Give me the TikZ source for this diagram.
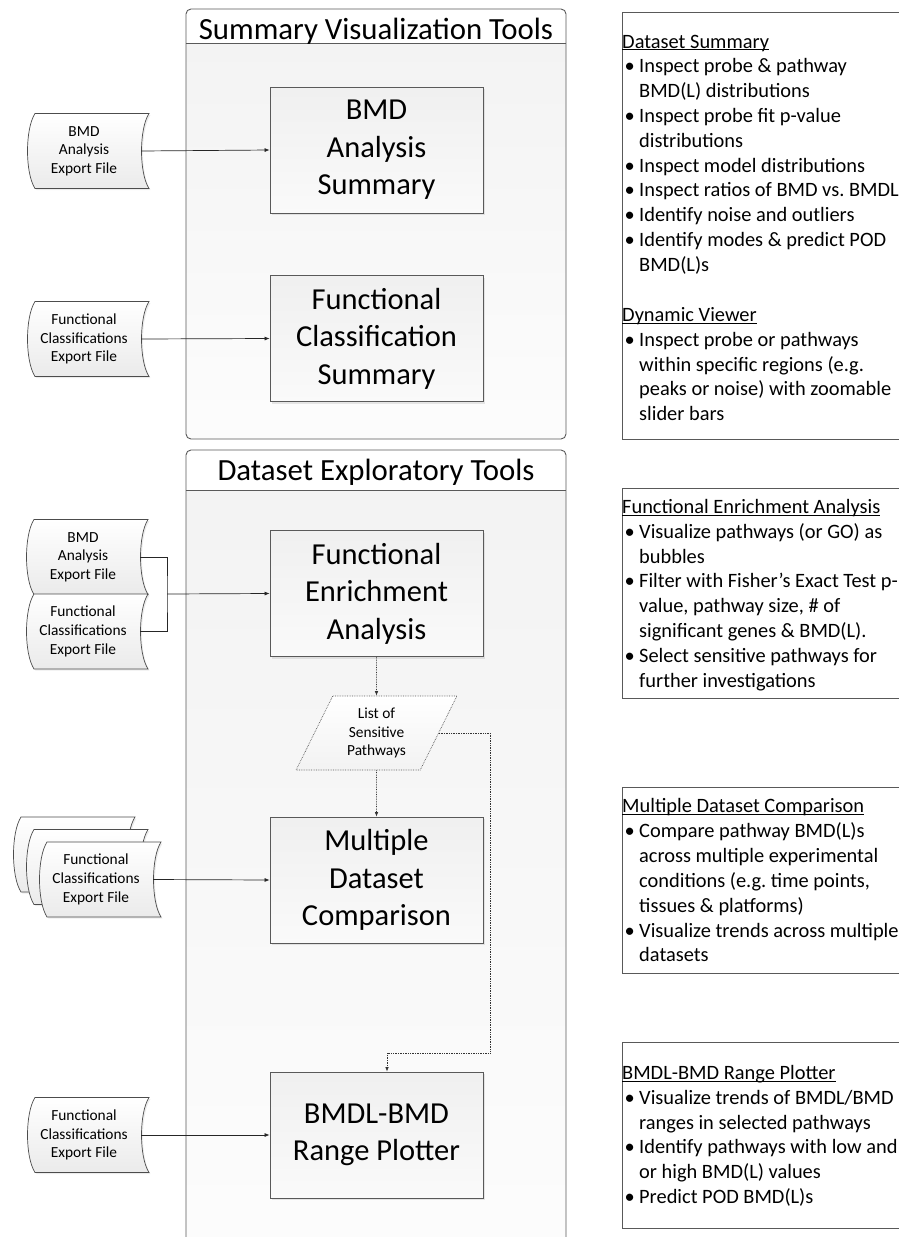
\documentclass[tikz,border=0pt]{standalone}
\usepackage{fontspec}
\setmainfont{Carlito}
\usetikzlibrary{arrows.meta,calc,shadows,shapes.geometric}
\frenchspacing

\newcommand\infobul{\makebox[17pt][l]{\hspace{2.5pt}\textbullet}}
\newcommand\infoind{\hspace*{17pt}}
\newcommand\ultitle[1]{\setbox0\hbox{#1}\rlap{\rule[-2.2pt]{\wd0}{0.9pt}}\box0}

% export file: wavy outline, then its text node
\newcommand\datafile[3]{%
  \draw[docline] ($(#2)+(-49,-37.5)$) -- ($(#2)+(65,-37.5)$)
    .. controls ($(#2)+(55,-22)$) and ($(#2)+(55,22)$) .. ($(#2)+(65,37.5)$)
    -- ($(#2)+(-49,37.5)$)
    .. controls ($(#2)+(-59,22)$) and ($(#2)+(-59,-22)$) .. ($(#2)+(-49,-37.5)$) -- cycle;
  \node[datafile] (#1) at (#2) {#3};}

\tikzset{
  panelframe/.style={draw=black!65, line width=0.9pt, rounded corners=5pt},
  panelbody/.style={top color=gray!10, bottom color=gray!2, rounded corners=5pt},
  paneltitle/.style={anchor=base, inner sep=0pt, font=\fontsize{30.8}{37}\selectfont},
  toolbox/.style={draw=black!65, line width=0.8pt, top color=gray!12, bottom color=gray!4,
    minimum width=213pt, minimum height=126pt, align=center, inner sep=0pt,
    font=\fontsize{30.5}{37.5}\selectfont,
    drop shadow={opacity=0.18, shadow xshift=2pt, shadow yshift=-2pt}},
  datafile/.style={minimum width=114pt, minimum height=75pt, inner sep=0pt, align=center,
    font=\fontsize{15.4}{18.7}\selectfont},
  docline/.style={draw=black!70, line width=0.7pt, top color=white, bottom color=gray!16,
    drop shadow={opacity=0.15, shadow xshift=1.5pt, shadow yshift=-1.5pt}},
  pathlist/.style={trapezium, trapezium left angle=64, trapezium right angle=116,
    trapezium stretches=true, minimum width=161pt, minimum height=74pt, inner sep=0pt,
    draw=black!65, densely dotted, line width=0.7pt, top color=white, bottom color=gray!10,
    align=center, font=\fontsize{15.4}{18.7}\selectfont},
  flowarrow/.style={draw=black!85, line width=0.7pt, -{Latex[length=5pt,width=4pt]}},
  flowline/.style={draw=black!85, line width=0.7pt},
  dotflow/.style={draw=black!80, line width=0.7pt, densely dotted, -{Latex[length=4.5pt,width=3.5pt]}},
  infobox/.style={draw=black!65, line width=0.9pt},
  infotext/.style={anchor=base west, inner sep=0pt, font=\fontsize{20.4}{25}\selectfont}
}

\begin{document}
\begin{tikzpicture}[x=1pt, y=-1pt]
\useasboundingbox (0,0) rectangle (899,1237);

% Summary panel
\path[panelbody] (186,9) rectangle (566,439);
\fill[white, rounded corners=5pt] (186,43) -- (186,9) -- (566,9) [sharp corners] -- (566,43) -- cycle;
\draw[panelframe] (186,9) rectangle (566,439);
\draw[panelframe] (186,43) -- (566,43);
\node[paneltitle] (sumtitle) at (376,39) {Summary Visualization Tools};

% Exploratory panel (runs off the bottom)
\path[panelbody] (186,450) rectangle (566,1260);
\fill[white, rounded corners=5pt] (186,490) -- (186,450) -- (566,450) [sharp corners] -- (566,490) -- cycle;
\draw[panelframe] (186,450) rectangle (566,1260);
\draw[panelframe] (186,490) -- (566,490);
\node[paneltitle] (exptitle) at (376,480) {Dataset Exploratory Tools};

% Tools
\node[toolbox] (bmdsum) at (376.5,150) {BMD\\Analysis\\Summary};
\node[toolbox] (fcsum) at (376.5,338.5) {Functional\\Classification\\Summary};
\node[toolbox] (fea) at (376.5,593.5) {Functional\\Enrichment\\Analysis};
\node[pathlist] (listpaths) at (376.5,733) {List of\\Sensitive\\Pathways};
\node[toolbox] (mdc) at (376.5,880) {Multiple\\Dataset\\Comparison};
\node[toolbox] (bmdl) at (376.5,1135) {BMDL-BMD\\Range Plotter};

% Export files
\datafile{bmdfile}{84,151}{BMD\\Analysis\\Export File}
\datafile{fcfile}{84,339}{Functional\\Classifications\\Export File}
\datafile{bmdfile2}{83,557}{BMD\\Analysis\\Export File}
\datafile{fcfile2}{83,631.5}{Functional\\Classifications\\Export File}
\datafile{mdcback}{70,854.5}{}
\datafile{mdcmid}{83,867}{}
\datafile{mdcfile}{96,879.5}{Functional\\Classifications\\Export File}
\datafile{bmdlfile}{84,1135}{Functional\\Classifications\\Export File}

% Inputs
\draw[flowarrow] (bmdfile.east) -- (bmdsum.west);
\draw[flowarrow] (fcfile.east) -- (fcsum.west);
\coordinate (merge) at (167,594);
\draw[flowline] (bmdfile2.east) -| (merge) |- (fcfile2.east);
\draw[flowarrow] (merge) -- (fea.west);
\draw[flowarrow] (mdcfile.east) -- (mdc.west);
\draw[flowarrow] (bmdlfile.east) -- (bmdl.west);

% Pathway list hand-off
\coordinate (detour) at (490,1053);
\draw[dotflow] (fea.south) -- (listpaths.north);
\draw[dotflow] (listpaths.south) -- (mdc.north);
\draw[dotflow] (listpaths.east) -| (detour) -| ([xshift=10.5pt]bmdl.north);

% Notes
\draw[infobox] (622,12) rectangle (910,439);
\draw[infobox] (622,488) rectangle (910,698);
\draw[infobox] (622,787) rectangle (910,973);
\draw[infobox] (622,1042) rectangle (910,1228);

\foreach \txt [count=\i from 0] in {
  \ultitle{Dataset Summary},
  \infobul Inspect probe \& pathway,
  \infoind BMD(L) distributions,
  \infobul Inspect probe fit p-value,
  \infoind distributions,
  \infobul Inspect model distributions,
  \infobul Inspect ratios of BMD vs. BMDL,
  \infobul Identify noise and outliers,
  \infobul Identify modes \& predict POD,
  \infoind BMD(L)s}
  \node[infotext] (summary\i) at (622,48+24.8*\i) {\txt};
\foreach \txt [count=\i from 0] in {
  \ultitle{Dynamic Viewer},
  \infobul Inspect probe or pathways,
  \infoind within specific regions (e.g.,
  \infoind peaks or noise) with zoomable,
  \infoind slider bars}
  \node[infotext] (viewer\i) at (622,321.5+24.8*\i) {\txt};
\foreach \txt [count=\i from 0] in {
  \ultitle{Functional Enrichment Analysis},
  \infobul Visualize pathways (or GO) as,
  \infoind bubbles,
  \infobul Filter with Fisher’s Exact Test p-,
  {\infoind value, pathway size, \# of},
  \infoind significant genes \& BMD(L).,
  \infobul Select sensitive pathways for,
  \infoind further investigations}
  \node[infotext] (enrich\i) at (622,513.5+24.8*\i) {\txt};
\foreach \txt [count=\i from 0] in {
  \ultitle{Multiple Dataset Comparison},
  \infobul Compare pathway BMD(L)s,
  \infoind across multiple experimental,
  {\infoind conditions (e.g. time points,},
  \infoind tissues \& platforms),
  \infobul Visualize trends across multiple,
  \infoind datasets}
  \node[infotext] (compare\i) at (622,812.5+24.9*\i) {\txt};
\foreach \txt [count=\i from 0] in {
  \ultitle{BMDL-BMD Range Plotter},
  \infobul Visualize trends of BMDL/BMD,
  \infoind ranges in selected pathways,
  \infobul Identify pathways with low and,
  \infoind or high BMD(L) values,
  \infobul Predict POD BMD(L)s}
  \node[infotext] (plotter\i) at (622,1079.5+24.8*\i) {\txt};
\end{tikzpicture}
\end{document}
